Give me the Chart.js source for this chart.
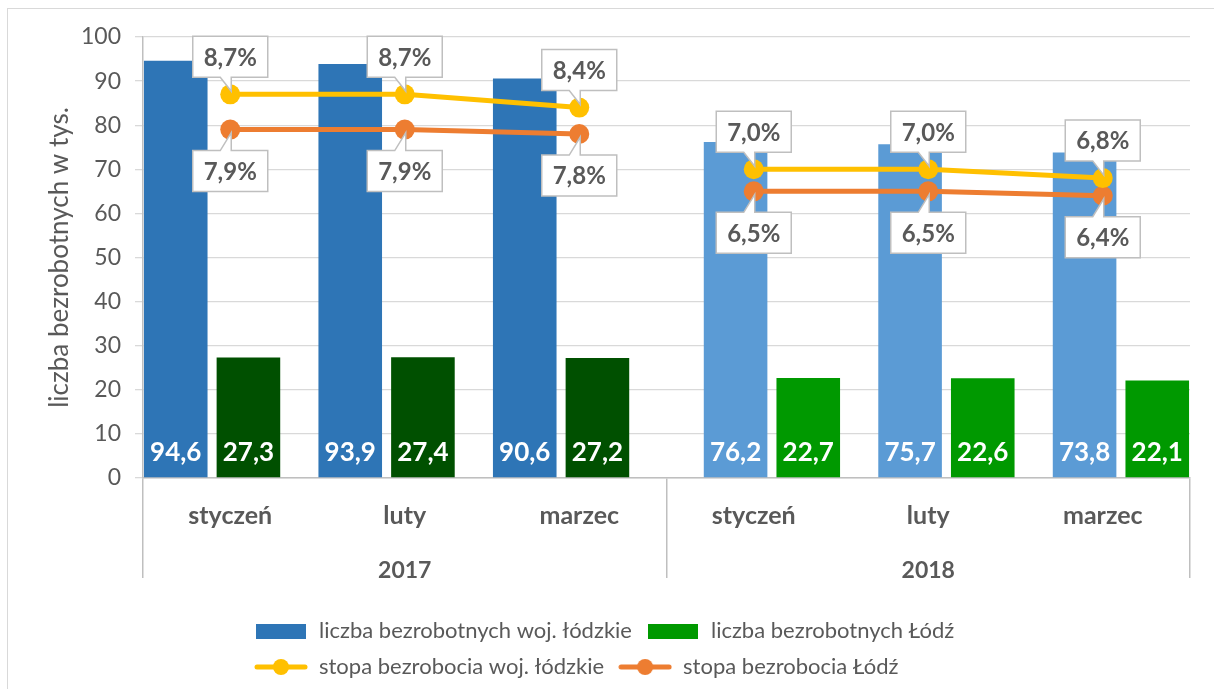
<!DOCTYPE html>
<html lang="pl">
<head>
    <meta charset="UTF-8">
    <title>Bezrobocie - woj. łódzkie i Łódź</title>
    <script src="https://cdn.jsdelivr.net/npm/chart.js@4.4.0/dist/chart.umd.min.js"></script>
    <style>
        html, body { margin: 0; padding: 0; background: #fff; overflow: hidden; }
        .frame { position: absolute; left: 7px; top: 8px; width: 1300px; height: 800px; border: 1px solid #d9d9d9; }
        #chart { position: absolute; left: 0; top: 0; }
    </style>
</head>
<body>
    <div class="frame"></div>
    <canvas id="chart" width="1214" height="689"></canvas>

    <script>
        // dane
        const months = ['styczeń', 'luty', 'marzec', 'styczeń', 'luty', 'marzec'];
        const years = ['2017', '2018'];
        const yearOfMonth = ['2017', '2017', '2017', '2018', '2018', '2018'];
        const bezrobotniWoj = [94.6, 93.9, 90.6, 76.2, 75.7, 73.8];
        const bezrobotniLodz = [27.3, 27.4, 27.2, 22.7, 22.6, 22.1];
        const stopaWoj = [8.7, 8.7, 8.4, 7.0, 7.0, 6.8];
        const stopaLodz = [7.9, 7.9, 7.8, 6.5, 6.5, 6.4];

        const grey = '#595959';
        const font = 'Lato';

        // keep only one year's values, the rest stays empty
        const onlyYear = (arr, y) => arr.map((v, i) => yearOfMonth[i] === y ? v : null);
        const fmt = v => v.toFixed(1).replace('.', ',');

        // small pictures for the legend
        function boxIcon(color) {
            const c = document.createElement('canvas');
            c.width = 50; c.height = 15;
            const g = c.getContext('2d');
            g.fillStyle = color;
            g.fillRect(0, 0, 50, 15);
            return c;
        }
        function lineIcon(color) {
            const c = document.createElement('canvas');
            c.width = 54; c.height = 20;
            const g = c.getContext('2d');
            g.strokeStyle = color; g.lineWidth = 5; g.lineCap = 'round';
            g.beginPath(); g.moveTo(3, 10); g.lineTo(51, 10); g.stroke();
            g.fillStyle = color;
            g.beginPath(); g.arc(27, 10, 8, 0, Math.PI * 2); g.fill();
            return c;
        }

        const lineDs = (label, data, color, above) => ({
            type: 'line',
            label: label,
            data: data,
            yAxisID: 'y2',
            order: 0,
            borderColor: color,
            backgroundColor: color,
            borderWidth: 5,
            pointRadius: 10,
            pointHoverRadius: 10,
            pointBorderWidth: 0,
            pointBackgroundColor: color,
            tension: 0,
            fill: false,
            calloutAbove: above,
            legendIcon: lineIcon(color),
            // no line between 2017 and 2018
            segment: { borderColor: c => c.p0DataIndex === 2 ? 'rgba(0,0,0,0)' : undefined }
        });

        const datasets = [
            { label: 'liczba bezrobotnych woj. łódzkie', data: onlyYear(bezrobotniWoj, '2017'), backgroundColor: '#2E75B6', order: 1, legendIcon: boxIcon('#2E75B6') },
            { label: 'liczba bezrobotnych woj. łódzkie', data: onlyYear(bezrobotniWoj, '2018'), backgroundColor: '#5B9BD5', order: 1, noLegend: true },
            { label: 'liczba bezrobotnych Łódź', data: onlyYear(bezrobotniLodz, '2017'), backgroundColor: '#005000', order: 1, noLegend: true },
            { label: 'liczba bezrobotnych Łódź', data: onlyYear(bezrobotniLodz, '2018'), backgroundColor: '#009900', order: 1, legendIcon: boxIcon('#009900') },
            lineDs('stopa bezrobocia woj. łódzkie', stopaWoj, '#FFC000', true),
            lineDs('stopa bezrobocia Łódź', stopaLodz, '#ED7D31', false)
        ];

        // value labels: white numbers in bars, boxed percentages at the points
        const labelPlugin = {
            id: 'etykiety',
            afterDatasetsDraw(chart) {
                const ctx = chart.ctx;
                const base = chart.scales.y.getPixelForValue(0);
                ctx.save();
                chart.data.datasets.forEach((ds, di) => {
                    const meta = chart.getDatasetMeta(di);
                    meta.data.forEach((el, i) => {
                        const v = ds.data[i];
                        if (v === null) return;
                        if (meta.type === 'bar') {
                            ctx.font = 'bold 26px ' + font;
                            ctx.fillStyle = '#fff';
                            ctx.textAlign = 'center';
                            ctx.textBaseline = 'middle';
                            ctx.fillText(fmt(v), el.x, base - 25);
                        } else {
                            drawCallout(ctx, el.x, el.y, fmt(v) + '%', ds.calloutAbove);
                        }
                    });
                });
                ctx.restore();
            },
            afterLayout(chart) {
                // legend rows start under the left part of the chart
                const lg = chart.legend;
                const dx = 240 - lg.left;
                lg.left += dx;
                lg.right += dx;
            }
        };

        function drawCallout(ctx, px, py, text, above) {
            const w = 75, h = 41;
            const left = px - w / 2, right = px + w / 2;
            let top;
            ctx.beginPath();
            if (above) {
                top = py - 17 - h;
                const bottom = top + h;
                ctx.moveTo(left, top);
                ctx.lineTo(right, top);
                ctx.lineTo(right, bottom);
                ctx.lineTo(px + 1, bottom);
                ctx.lineTo(px + 1, py - 3);
                ctx.lineTo(px - 10, bottom);
                ctx.lineTo(left, bottom);
            } else {
                top = py + 21;
                const bottom = top + h;
                ctx.moveTo(left, top);
                ctx.lineTo(px - 10, top);
                ctx.lineTo(px + 1, py + 3);
                ctx.lineTo(px + 1, top);
                ctx.lineTo(right, top);
                ctx.lineTo(right, bottom);
                ctx.lineTo(left, bottom);
            }
            ctx.closePath();
            ctx.fillStyle = '#fff';
            ctx.fill();
            ctx.strokeStyle = '#bfbfbf';
            ctx.lineWidth = 1.5;
            ctx.stroke();
            ctx.font = 'bold 24px ' + font;
            ctx.fillStyle = grey;
            ctx.textAlign = 'center';
            ctx.textBaseline = 'middle';
            ctx.fillText(text, px, top + h / 2 + 1);
        }

        new Chart(document.getElementById('chart'), {
            type: 'bar',
            data: { labels: months, datasets: datasets },
            plugins: [labelPlugin],
            options: {
                responsive: false,
                animation: false,
                devicePixelRatio: 1,
                layout: { padding: { left: 0, top: 37, right: 24, bottom: 1 } },
                categoryPercentage: 0.833,
                barPercentage: 1.75,
                plugins: {
                    tooltip: { enabled: false },
                    legend: {
                        position: 'bottom',
                        align: 'start',
                        fullSize: false,
                        labels: {
                            usePointStyle: true,
                            pointStyleWidth: 54,
                            padding: 14,
                            color: grey,
                            font: { family: font, size: 22 },
                            generateLabels(chart) {
                                return chart.data.datasets
                                    .map((ds, i) => ({ ds, i }))
                                    .filter(o => !o.ds.noLegend)
                                    .map(o => ({
                                        text: o.ds.label,
                                        datasetIndex: o.i,
                                        pointStyle: o.ds.legendIcon,
                                        fontColor: grey,
                                        lineWidth: 0,
                                        hidden: false
                                    }));
                            }
                        }
                    }
                },
                scales: {
                    x: {
                        type: 'category',
                        position: 'bottom',
                        offset: true,
                        grid: {
                            offset: true,
                            drawOnChartArea: false,
                            drawTicks: true,
                            tickLength: 100,
                            lineWidth: 1.5,
                            color: c => (c.type !== 'tick' || c.index % 3 === 0) ? '#bfbfbf' : 'rgba(0,0,0,0)'
                        },
                        border: { display: true, color: '#bfbfbf', width: 1.5 },
                        ticks: {
                            autoSkip: false,
                            maxRotation: 0,
                            padding: -77,
                            color: grey,
                            font: { family: font, size: 25, weight: 'bold' }
                        },
                        afterFit: s => { s.height = 61; }
                    },
                    xYear: {
                        type: 'category',
                        labels: years,
                        position: 'bottom',
                        offset: true,
                        grid: { display: false },
                        border: { display: false },
                        ticks: {
                            padding: 10,
                            color: grey,
                            font: { family: font, size: 23, weight: 'bold' }
                        },
                        afterFit: s => { s.height = 67; }
                    },
                    y: {
                        min: 0,
                        max: 100,
                        ticks: {
                            stepSize: 10,
                            padding: 14,
                            color: grey,
                            font: { family: font, size: 23 }
                        },
                        grid: { color: '#d9d9d9', lineWidth: 1.3, tickLength: 8 },
                        border: { color: '#bfbfbf', width: 1.5 },
                        title: {
                            display: true,
                            text: 'liczba bezrobotnych w tys.',
                            color: grey,
                            font: { family: font, size: 26 },
                            padding: { top: 44 }
                        },
                        afterFit: s => { s.width = 143; }
                    },
                    y2: { min: 0, max: 10, display: false }
                }
            }
        });
    </script>
</body>
</html>
